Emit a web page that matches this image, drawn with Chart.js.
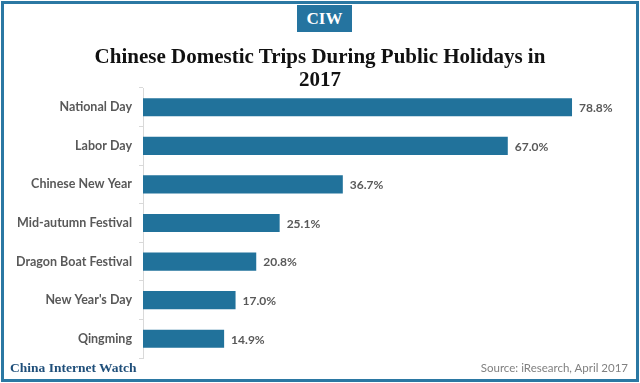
<!DOCTYPE html>
<html>
<head>
<meta charset="utf-8">
<script src="https://cdn.jsdelivr.net/npm/chart.js@4"></script>
<style>
  html, body { margin: 0; padding: 0; background: #fff; }
  #wrap { position: relative; width: 640px; height: 383px; overflow: hidden; }
  #frame { position: absolute; left: 1px; top: 1px; width: 632px; height: 375px; border: 3px solid #2b78a3; }
  canvas { position: absolute; left: 0; top: 0; }
  #logo { position: absolute; left: 297px; top: 5px; width: 55px; height: 27px; background: #2574a0; color: #fff;
          font: bold 17px "Liberation Serif", serif; text-align: center; line-height: 28px; }
  #title { position: absolute; left: 0; top: 45px; width: 640px; text-align: center; color: #111;
           font: bold 21px "Liberation Serif", serif; line-height: 23px; }
  #brand { position: absolute; left: 10px; top: 360px; color: #1f4f7a; font: bold 13.5px "Liberation Serif", serif; }
  #source { position: absolute; right: 12px; top: 361px; color: #808080; font: 11.5px "Lato", sans-serif; }
</style>
</head>
<body>
<div id="wrap">
  <canvas id="c" width="640" height="383"></canvas>
  <div id="frame"></div>
  <div id="logo">CIW</div>
  <div id="title">Chinese Domestic Trips During Public Holidays in<br>2017</div>
  <div id="brand">China Internet Watch</div>
  <div id="source">Source: iResearch, April 2017</div>
</div>
<script>
const categories = ["National Day", "Labor Day", "Chinese New Year", "Mid-autumn Festival", "Dragon Boat Festival", "New Year's Day", "Qingming"];
const shares = [78.8, 67.0, 36.7, 25.1, 20.8, 17.0, 14.9];
const valueLabels = ["78.8%", "67.0%", "36.7%", "25.1%", "20.8%", "17.0%", "14.9%"];

const labelPlugin = {
  id: 'valueLabels',
  afterDatasetsDraw(chart) {
    const ctx = chart.ctx;
    const meta = chart.getDatasetMeta(0);
    ctx.save();
    ctx.font = 'bold 12px Lato, sans-serif';
    ctx.fillStyle = '#595959';
    ctx.textAlign = 'left';
    ctx.textBaseline = 'middle';
    meta.data.forEach((bar, i) => {
      ctx.fillText(valueLabels[i], bar.x + 7, bar.y + 1);
    });
    ctx.restore();
  }
};

new Chart(document.getElementById('c'), {
  type: 'bar',
  data: {
    labels: categories,
    datasets: [{
      data: shares,
      backgroundColor: '#21729b',
      borderWidth: 0,
      categoryPercentage: 1,
      barPercentage: 0.47
    }]
  },
  options: {
    indexAxis: 'y',
    responsive: false,
    animation: false,
    devicePixelRatio: 1,
    layout: { padding: { left: 0, right: 7, top: 88, bottom: 25 } },
    plugins: { legend: { display: false }, tooltip: { enabled: false } },
    scales: {
      x: { display: false, min: 0, max: 90 },
      y: {
        afterFit(scale) { scale.width = 143; },
        grid: { offset: true, drawOnChartArea: false, tickLength: 4, color: '#d9d9d9' },
        border: { display: true, color: '#d9d9d9' },
        ticks: { color: '#595959', font: { family: 'Lato', size: 12.5, weight: 'bold' }, padding: 7 }
      }
    }
  },
  plugins: [labelPlugin]
});
</script>
</body>
</html>
